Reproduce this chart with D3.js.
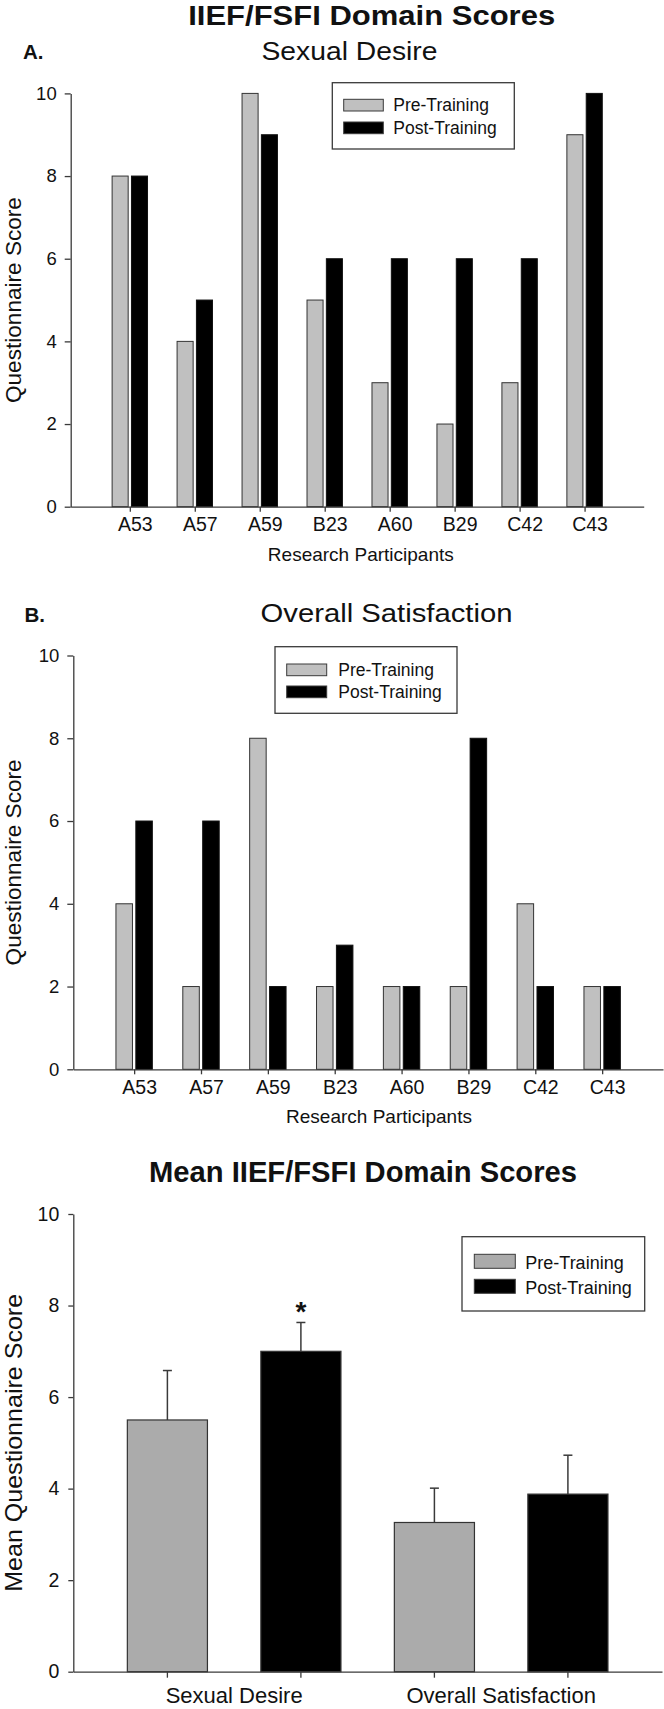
<!DOCTYPE html>
<html>
<head>
<meta charset="utf-8">
<script src="https://cdn.jsdelivr.net/npm/d3@7"></script>
<style>
  html, body { margin: 0; padding: 0; background: #fff; }
  svg { display: block; font-family: "Liberation Sans", Arial, sans-serif; }
</style>
</head>
<body>
<svg id="chart" width="664" height="1709"></svg>
<script>
// ---------------- data ----------------
const participants = ["A53", "A57", "A59", "B23", "A60", "B29", "C42", "C43"];
const seriesNames = ["Pre-Training", "Post-Training"];
const desirePre = [8, 4, 10, 5, 3, 2, 3, 9];
const desirePost = [8, 5, 9, 6, 6, 6, 6, 10];
const satisfactionPre = [4, 2, 8, 2, 2, 2, 4, 2];
const satisfactionPost = [6, 6, 2, 3, 2, 8, 2, 2];
const domains = ["Sexual Desire", "Overall Satisfaction"];
const meanPre = [5.5, 3.26];
const meanPost = [7.0, 3.88];
const semPre = [1.08, 0.75];
const semPost = [0.63, 0.85];
const yTicks = [0, 2, 4, 6, 8, 10];
const significant = [true, false]; // post-training marked with *

// ---------------- helpers ----------------
const svg = d3.select("#chart");
const AXIS = "#3a3a3a";

function styleAxis(g) {
  g.selectAll("path.domain").attr("stroke", AXIS).attr("stroke-width", 1.3);
  g.selectAll(".tick line").attr("stroke", AXIS).attr("stroke-width", 1.3);
  g.selectAll(".tick text").attr("fill", "#111");
}

function legend(x, y, w, h, swX, swW, swH, rowYs, textX, fontSize, colors) {
  const g = svg.append("g").attr("transform", `translate(${x},${y})`);
  g.append("rect").attr("width", w).attr("height", h)
    .attr("fill", "#fff").attr("stroke", AXIS).attr("stroke-width", 1.3);
  seriesNames.forEach((s, i) => {
    g.append("rect").attr("x", swX).attr("y", rowYs[i]).attr("width", swW).attr("height", swH)
      .attr("fill", colors[i]).attr("stroke", AXIS).attr("stroke-width", 1);
    g.append("text").attr("x", textX).attr("y", rowYs[i] + swH + 0.5)
      .attr("font-size", fontSize).attr("fill", "#111").text(s);
  });
}

function text(x, y, str, size, opts = {}) {
  const t = svg.append("text").attr("x", x).attr("y", y)
    .attr("font-size", size).attr("fill", "#111").text(str);
  if (opts.anchor) t.attr("text-anchor", opts.anchor);
  if (opts.bold) t.attr("font-weight", "bold");
  if (opts.len) t.attr("textLength", opts.len).attr("lengthAdjust", "spacingAndGlyphs");
  if (opts.rotate) t.attr("transform", `rotate(-90,${x},${y})`);
  return t;
}

// ---------------- grouped participant chart ----------------
function participantChart(cfg) {
  const y = d3.scaleLinear().domain([0, 10]).range([cfg.y0, cfg.y10]);
  const x0 = d3.scalePoint().domain(participants).range([cfg.left, cfg.right]).padding(0.91);
  const x1 = d3.scaleBand().domain(seriesNames).range([-cfg.half, cfg.half]).paddingInner(0.17);
  const colors = ["#c0c0c0", "#000000"];
  const vals = [cfg.pre, cfg.post];

  const g = svg.append("g");
  seriesNames.forEach((s, si) => {
    g.selectAll(null).data(participants).enter().append("rect")
      .attr("x", (d) => x0(d) + x1(s))
      .attr("width", x1.bandwidth())
      .attr("y", (d, i) => y(vals[si][i]))
      .attr("height", (d, i) => y(0) - y(vals[si][i]))
      .attr("fill", colors[si])
      .attr("stroke", si === 0 ? "#333" : "#111")
      .attr("stroke-width", 1);
  });

  const ya = svg.append("g").attr("transform", `translate(${cfg.left},0)`)
    .call(d3.axisLeft(y).tickValues(yTicks).tickSize(6).tickPadding(8).tickSizeOuter(0));
  ya.selectAll("text").attr("font-size", 18.5).attr("font-family", null);
  styleAxis(ya);

  const xa = svg.append("g").attr("transform", `translate(0,${cfg.y0})`)
    .call(d3.axisBottom(x0).tickSize(5).tickSizeOuter(0));
  xa.selectAll("text").attr("font-size", 19.5).attr("font-family", null)
    .attr("dy", null).attr("y", 24.3).attr("dx", 5);
  styleAxis(xa);

  text(cfg.xTitleX, cfg.y0 + 54, "Research Participants", 19, { anchor: "middle" });
  text(cfg.yLabelX, (cfg.y0 + cfg.y10) / 2, "Questionnaire Score", 22.6, { anchor: "middle", rotate: true });
}

// ---------------- titles ----------------
text(371.7, 24.5, "IIEF/FSFI Domain Scores", 27, { anchor: "middle", bold: true, len: 367 });
text(23, 59.3, "A.", 20.5, { bold: true });
text(349.5, 60, "Sexual Desire", 25, { anchor: "middle", len: 176 });

participantChart({
  left: 70.7, right: 643.7, y0: 506.7, y10: 93.4, half: 17.7,
  pre: desirePre, post: desirePost, xTitleX: 360.8, yLabelX: 21
});
legend(332.3, 82.7, 182, 66.3, 11.4, 39.6, 11.7, [16.6, 39.3], 61, 17.5, ["#c0c0c0", "#000"]);

text(24.5, 621.7, "B.", 20.5, { bold: true });
text(386.5, 621.7, "Overall Satisfaction", 25, { anchor: "middle", len: 252 });

participantChart({
  left: 73.3, right: 663, y0: 1069.3, y10: 655.5, half: 18.2,
  pre: satisfactionPre, post: satisfactionPost, xTitleX: 379, yLabelX: 21.5
});
legend(275, 646.7, 182, 66.6, 11.7, 40, 11.7, [17.3, 39.3], 63.3, 17.5, ["#c0c0c0", "#000"]);

// ---------------- mean chart ----------------
text(363, 1181.7, "Mean IIEF/FSFI Domain Scores", 29, { anchor: "middle", bold: true, len: 428 });
(function meanChart() {
  const left = 73.3, right = 662, y0 = 1671.7, y10 = 1214;
  const y = d3.scaleLinear().domain([0, 10]).range([y0, y10]);
  const x0 = d3.scaleBand().domain(domains).range([left, right]).paddingInner(0).paddingOuter(0.1024);
  const x1 = d3.scaleBand().domain(seriesNames).range([0, x0.bandwidth()]).paddingInner(0.4).paddingOuter(0.2);
  const colors = ["#ababab", "#000000"];
  const means = [meanPre, meanPost];
  const sems = [semPre, semPost];

  seriesNames.forEach((s, si) => {
    domains.forEach((d, i) => {
      const cx = x0(d) + x1(s) + x1.bandwidth() / 2;
      const top = y(means[si][i]);
      const errTop = y(means[si][i] + sems[si][i]);
      svg.append("line").attr("x1", cx).attr("x2", cx).attr("y1", top).attr("y2", errTop)
        .attr("stroke", AXIS).attr("stroke-width", 1.5);
      svg.append("line").attr("x1", cx - 4.5).attr("x2", cx + 4.5).attr("y1", errTop).attr("y2", errTop)
        .attr("stroke", AXIS).attr("stroke-width", 1.5);
      svg.append("rect").attr("x", x0(d) + x1(s)).attr("width", x1.bandwidth())
        .attr("y", top).attr("height", y(0) - top)
        .attr("fill", colors[si]).attr("stroke", "#333").attr("stroke-width", 1.2);
      // tick mark under each bar
      svg.append("line").attr("x1", cx).attr("x2", cx).attr("y1", y0).attr("y2", y0 + 6)
        .attr("stroke", AXIS).attr("stroke-width", 1.3);
      if (si === 1 && significant[i]) {
        text(cx, errTop - 1.5, "*", 28, { anchor: "middle", bold: true });
      }
    });
  });

  const ya = svg.append("g").attr("transform", `translate(${left},0)`)
    .call(d3.axisLeft(y).tickValues(yTicks).tickSize(5).tickPadding(9).tickSizeOuter(0));
  ya.selectAll("text").attr("font-size", 19.5).attr("font-family", null);
  styleAxis(ya);

  const xa = svg.append("g").attr("transform", `translate(0,${y0})`)
    .call(d3.axisBottom(x0).tickSize(0).tickSizeOuter(0));
  xa.selectAll("text").attr("font-size", 22).attr("font-family", null)
    .attr("dy", null).attr("y", 31.8);
  styleAxis(xa);

  text(22.5, (y0 + y10) / 2, "Mean Questionnaire Score", 24, { anchor: "middle", rotate: true, len: 298 });
  legend(462, 1236.7, 182.7, 74.3, 12.3, 41, 14, [17.6, 42.6], 63.3, 18, ["#ababab", "#000"]);
})();
</script>
</body>
</html>
